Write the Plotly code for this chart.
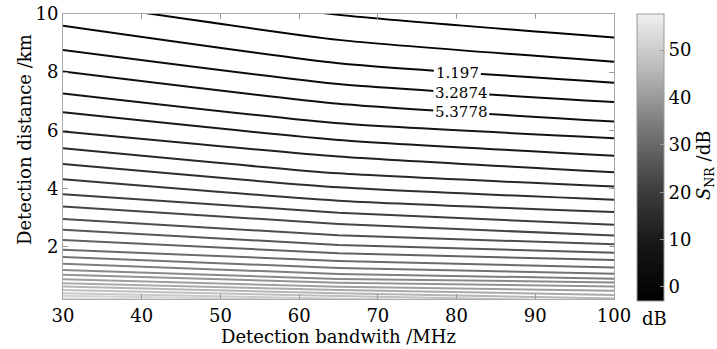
import plotly.graph_objects as go

# ---- data ----
bandwidth_mhz = [30, 65, 100]          # sample columns (MHz)

contour_levels = [-2.9838, -0.8934, 1.197, 3.2874, 5.3778, 7.4682, 9.5586, 11.649,
                  13.7394, 15.8298, 17.9202, 20.0106, 22.101, 24.1914, 26.2818,
                  28.3722, 30.4626, 32.553, 34.6434, 36.7338, 38.8242, 40.9146,
                  43.005, 45.0954, 47.1858, 49.2762, 51.3666, 53.457, 55.5474, 57.6378]

# detection distance (km) of each contour at 30, 65 and 100 MHz
dist_at_30 = [11.3, 10.45, 9.60, 8.76, 8.02, 7.27, 6.62, 5.96, 5.38, 4.84,
              4.32, 3.80, 3.38, 2.95, 2.58, 2.23, 1.89, 1.64, 1.41, 1.20,
              1.03, 0.88, 0.74, 0.63, 0.51, 0.40, 0.31, 0.23, 0.17, 0.12]
dist_at_65 = [9.97, 9.11, 8.31, 7.59, 6.91, 6.24, 5.67, 5.10, 4.52, 4.04,
              3.58, 3.17, 2.78, 2.39, 2.06, 1.77, 1.51, 1.27, 1.06, 0.89,
              0.76, 0.62, 0.51, 0.40, 0.30, 0.21, 0.15, 0.10, 0.06, 0.03]
dist_at_100 = [9.19, 8.36, 7.64, 6.97, 6.30, 5.73, 5.13, 4.56, 4.07, 3.61,
               3.19, 2.75, 2.38, 2.08, 1.79, 1.54, 1.28, 1.07, 0.90, 0.77,
               0.63, 0.48, 0.34, 0.22, 0.13, 0.06, 0.02, -0.02, -0.05, -0.08]

label_texts = ["1.197", "3.2874", "5.3778"]
label_bw = [80.1, 80.6, 80.6]
label_dist = [7.98, 7.30, 6.62]

x_ticks = [30, 40, 50, 60, 70, 80, 90, 100]
y_ticks = [2, 4, 6, 8, 10]
cbar_ticks = [0, 10, 20, 30, 40, 50]

CMIN, CMAX = -2.9838, 57.6378
FONT = "DejaVu Serif"
FS = 18

# gray colormap (slightly gamma'd like the reference)
stops = [(0.0, 0), (0.2, 23), (0.4, 65), (0.6, 119), (0.8, 183), (1.0, 240)]
colorscale = [[s, f"rgb({g},{g},{g})"] for s, g in stops]


def gray_for(v):
    t = (v - CMIN) / (CMAX - CMIN)
    t = min(max(t, 0.0), 1.0)
    for (s0, g0), (s1, g1) in zip(stops[:-1], stops[1:]):
        if s0 <= t <= s1:
            g = int(round(g0 + (g1 - g0) * (t - s0) / (s1 - s0)))
            return f"rgb({g},{g},{g})"
    return "rgb(240,240,240)"


fig = go.Figure()

for i, lev in enumerate(contour_levels):
    fig.add_trace(go.Scatter(
        x=bandwidth_mhz,
        y=[dist_at_30[i], dist_at_65[i], dist_at_100[i]],
        mode="lines",
        line=dict(color=gray_for(lev), width=2, shape="spline", smoothing=0.5),
        showlegend=False, hoverinfo="skip",
    ))

# colorbar carrier (points lie outside the visible range)
fig.add_trace(go.Scatter(
    x=[30, 30], y=[-5, -5], mode="markers",
    marker=dict(color=[CMIN, CMAX], cmin=CMIN, cmax=CMAX, colorscale=colorscale,
                size=1, showscale=True,
                colorbar=dict(
                    x=(637 - 63) / 551, xanchor="left", xpad=0,
                    y=(299 - 301) / 285, yanchor="bottom", ypad=0,
                    len=287 / 285, lenmode="fraction",
                    thickness=27, thicknessmode="pixels",
                    outlinewidth=1, outlinecolor="#999",
                    tickvals=cbar_ticks, ticks="inside", ticklen=4,
                    tickcolor="#999",
                    tickfont=dict(family=FONT, size=FS, color="black"),
                )),
    showlegend=False, hoverinfo="skip",
))

# white patches that break the contour lines behind the labels
shapes = []
annotations = []
for t, bx, dy in zip(label_texts, label_bw, label_dist):
    w = len(t) * 9 + 2
    shapes.append(dict(type="rect", xref="x", yref="y",
                       xsizemode="pixel", ysizemode="pixel",
                       xanchor=bx, yanchor=dy, x0=-w / 2, x1=w / 2, y0=-6, y1=6,
                       fillcolor="white", line=dict(width=0), layer="above"))
    annotations.append(dict(x=bx, y=dy, xref="x", yref="y", text=t, showarrow=False,
                            xanchor="center", yanchor="middle",
                            font=dict(family=FONT, size=15, color="black")))

annotations += [
    dict(x=(24 - 63) / 551, y=(299 - 140) / 285, xref="paper", yref="paper",
         xanchor="center", yanchor="middle",
         text="Detection distance /km", textangle=-90, showarrow=False,
         font=dict(family=FONT, size=FS, color="black")),
    dict(x=(705 - 63) / 551, y=(299 - 166) / 285, xref="paper", yref="paper",
         xanchor="center", yanchor="middle",
         text="<i>S</i><sub>NR</sub> /dB", textangle=-90, showarrow=False,
         font=dict(family=FONT, size=FS, color="black")),
    dict(x=(654 - 63) / 551, y=(299 - 318) / 285, xref="paper", yref="paper",
         xanchor="center", yanchor="middle",
         text="dB", showarrow=False,
         font=dict(family=FONT, size=FS, color="black")),
]

axis_common = dict(showline=True, linecolor="#aaa", linewidth=1, mirror="ticks",
                   ticks="inside", ticklen=5, tickcolor="#999", showgrid=False,
                   zeroline=False, automargin=False, ticklabeloverflow="allow",
                   tickfont=dict(family=FONT, size=FS, color="black"))

fig.update_layout(
    width=717, height=349,
    margin=dict(l=63, r=103, t=14, b=50, autoexpand=False),
    paper_bgcolor="white", plot_bgcolor="white",
    xaxis=dict(range=[30, 100], tickvals=x_ticks,
               title=dict(text="Detection bandwith /MHz", standoff=2,
                          font=dict(family=FONT, size=FS, color="black")),
               **axis_common),
    yaxis=dict(range=[0.2, 10], tickvals=y_ticks, **axis_common),
    shapes=shapes,
    annotations=annotations,
)

# remove the browser's default 8px body margin so the figure fills the window
fig.write_html("out.html",
               config={"displayModeBar": False},
               post_script="document.body.style.margin='0px';"
                           "document.body.style.overflow='hidden';")
